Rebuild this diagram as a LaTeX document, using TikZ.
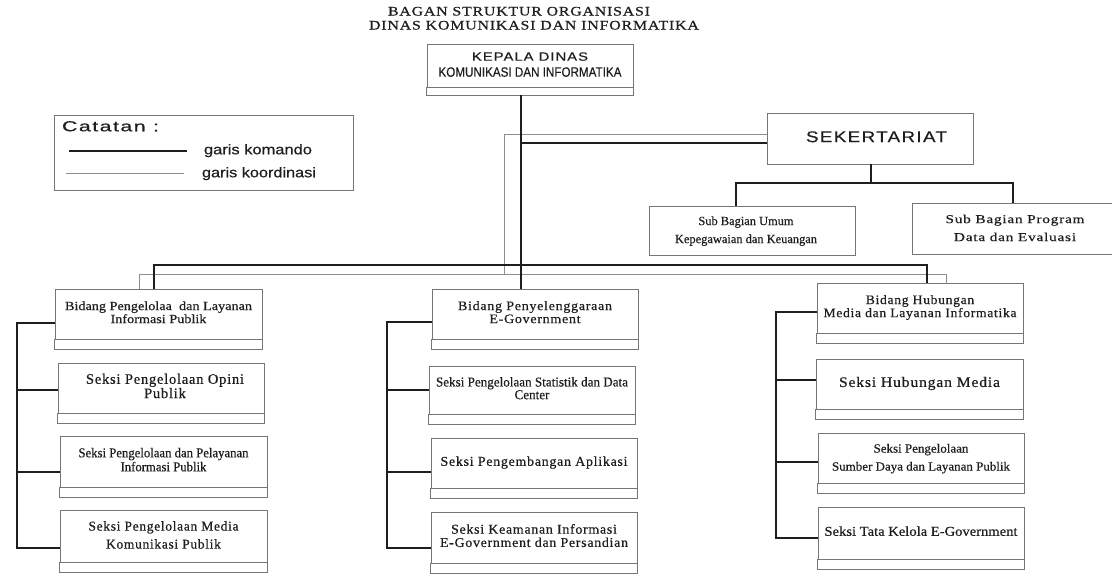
\documentclass[tikz,border=0pt]{standalone}
\usepackage{graphicx}
\usepackage{fontspec}
\setmainfont[FakeBold=0.5]{Liberation Serif}
\newfontfamily\sansf[FakeBold=0.4]{Liberation Sans}
\newfontfamily\sanssp[LetterSpace=7,FakeBold=0.4]{Liberation Sans}
\newfontfamily\serifsp[LetterSpace=5,FakeBold=0.5]{Liberation Serif}
\newcommand\fitw[2]{\resizebox{#1pt}{\height}{\begin{tabular}{@{}c@{}}#2\end{tabular}}}
\definecolor{boxgray}{HTML}{767676}
\definecolor{coordgray}{HTML}{8E8E8E}
\definecolor{ink}{HTML}{1E1E1E}
\tikzset{
  box/.style={draw=boxgray, line width=0.9pt, inner sep=0pt, text=ink},
  strip/.style={draw=boxgray, line width=0.9pt},
  cmd/.style={draw=ink, line width=1.9pt, line join=miter},
  coordl/.style={draw=coordgray, line width=0.8pt},
  txt/.style={inner sep=0pt, text=ink}
}
\begin{document}
\begin{tikzpicture}[x=1pt,y=-1pt]
\fill[white] (0,0) rectangle (1112,588);
\useasboundingbox (0,0) rectangle (1112,588);

% title
\node[txt] (t1) at (519,13) {\fitw{262}{\serifsp\fontsize{13}{13}\selectfont BAGAN STRUKTUR ORGANISASI}};
\node[txt] (t2) at (534,27) {\fitw{330}{\serifsp\fontsize{13}{13}\selectfont DINAS KOMUNIKASI DAN INFORMATIKA}};

% kepala
\node[box, minimum width=206pt, minimum height=43pt, align=center, font=\fontsize{12}{16}\selectfont] (kepala) at (530,65.5)
  {\fitw{116}{\sanssp\fontsize{12}{13}\selectfont KEPALA DINAS}\\\fitw{183}{\sansf\fontsize{13.5}{14}\selectfont KOMUNIKASI DAN INFORMATIKA}};
\draw[strip] (kepala.south west) rectangle ([yshift=-8pt]kepala.south east);

% legend
\node[box, minimum width=299pt, minimum height=75pt] (legend) at (203.5,152.5) {};
\node[txt] (cat) at (110.5,128) {\fitw{97}{\sanssp\fontsize{14.5}{14}\selectfont Catatan :}};
\node[txt] (gk) at (258,151) {\fitw{108}{\sansf\fontsize{14}{14}\selectfont garis komando}};
\node[txt] (gko) at (259,174) {\fitw{114}{\sansf\fontsize{14}{14}\selectfont garis koordinasi}};
\draw[cmd] (69,151) -- (187,151);
\draw[coordl] (66,173) -- (184,173);

% sekretariat
\node[box, minimum width=206pt, minimum height=51pt] (sek) at (870,138.5)
  {\hspace*{13pt}\fitw{141}{\sanssp\fontsize{15.5}{15}\selectfont SEKERTARIAT}};
\node[box, minimum width=206pt, minimum height=49pt, font=\fontsize{12.5}{18}\selectfont] (subU) at (752,230.5)
  {\fitw{142}{Sub Bagian Umum\\Kepegawaian dan Keuangan}\hspace*{12pt}};
\node[box, minimum width=206pt, minimum height=51pt, font=\fontsize{12}{18}\selectfont] (subP) at (1015,228.5)
  {\fitw{139}{\serifsp Sub Bagian Program\\\serifsp Data dan Evaluasi}};

% bidang row
\node[box, minimum width=207pt, minimum height=50pt, font=\fontsize{12.5}{13}\selectfont] (bidL) at (158.5,314)
  {\fitw{187}{Bidang Pengelolaa~ dan Layanan\\Informasi Publik}};
\node[box, minimum width=206pt, minimum height=50pt, font=\fontsize{13}{13}\selectfont] (bidM) at (535,314)
  {\fitw{154}{\serifsp Bidang Penyelenggaraan\\\serifsp E-Government}};
\node[box, minimum width=206pt, minimum height=50pt, font=\fontsize{13}{13}\selectfont] (bidR) at (920,308)
  {\fitw{193}{\serifsp Bidang Hubungan\\\serifsp Media dan Layanan Informatika}};

% left column
\node[box, minimum width=206pt, minimum height=50pt, font=\fontsize{14.5}{14}\selectfont] (sOpi) at (161,388)
  {\hspace*{8pt}\fitw{158}{\serifsp Seksi Pengelolaan Opini\\\serifsp Publik}};
\node[box, minimum width=207pt, minimum height=51pt, font=\fontsize{13.5}{14}\selectfont] (sPel) at (163.5,461.5)
  {\fitw{170}{Seksi Pengelolaan dan Pelayanan\\Informasi Publik}};
\node[box, minimum width=207pt, minimum height=52pt, font=\fontsize{13.5}{18}\selectfont] (sMed) at (163.5,536)
  {\fitw{150}{\serifsp Seksi Pengelolaan Media\\\serifsp Komunikasi Publik}};

% middle column
\node[box, minimum width=206pt, minimum height=48pt, font=\fontsize{13.5}{12.5}\selectfont] (sSta) at (532,390)
  {\fitw{192}{Seksi Pengelolaan Statistik dan Data\\Center}};
\node[box, minimum width=206pt, minimum height=50pt, font=\fontsize{13.5}{14}\selectfont] (sApl) at (534,463)
  {\fitw{187}{\serifsp Seksi Pengembangan Aplikasi}};
\node[box, minimum width=206pt, minimum height=51pt, font=\fontsize{13.5}{13}\selectfont] (sKea) at (534,537.5)
  {\fitw{188}{\serifsp Seksi Keamanan Informasi\\\serifsp E-Government dan Persandian}};

% right column
\node[box, minimum width=207pt, minimum height=50pt, font=\fontsize{14.5}{14}\selectfont] (sHub) at (919.5,384)
  {\fitw{161}{\serifsp Seksi Hubungan Media}};
\node[box, minimum width=206pt, minimum height=50pt, font=\fontsize{12.5}{18}\selectfont] (sSum) at (921,458)
  {\fitw{178}{Seksi Pengelolaan\\Sumber Daya dan Layanan Publik}};
\node[box, minimum width=206pt, minimum height=52pt, font=\fontsize{13.5}{14}\selectfont] (sTat) at (921,533)
  {\fitw{193}{Seksi Tata Kelola E-Government}};

\foreach \n in {bidL,bidM,bidR,sOpi,sPel,sMed,sSta,sApl,sKea,sHub,sSum,sTat}
  \draw[strip] (\n.south west) rectangle ([yshift=-10pt]\n.south east);

% coordination lines (thin)
\coordinate (ct) at (504,134);
\coordinate (cL) at (139,274);
\coordinate (cM) at (504,274);
\coordinate (cR) at (946,274);
\draw[coordl] (sek.west |- ct) -- (ct) -- (cM);
\draw[coordl] (cL |- bidL.north) -- (cL) -- (cR) -- (cR |- bidR.north);

% command lines (thick)
\coordinate (trunk) at (521,95);
\coordinate (ks) at (521,143);
\draw[cmd] (trunk) -- (trunk |- bidM.north);
\draw[cmd] (ks) -- (ks -| sek.west);
\coordinate (bL) at (154,265);
\coordinate (bR) at (927,265);
\draw[cmd] (bL |- bidL.north) -- (bL) -- (bR) -- (bR |- bidR.north);
\coordinate (sb) at (871,183);
\coordinate (sbL) at (736,183);
\coordinate (sbR) at (1013,183);
\draw[cmd] (sb |- sek.south) -- (sb);
\draw[cmd] (sbL |- subU.north) -- (sbL) -- (sbR) -- (sbR |- subP.north);

% brackets
\coordinate (lA) at (17,323); \coordinate (lB) at (17,390);
\coordinate (lC) at (17,472); \coordinate (lD) at (17,548);
\draw[cmd] (bidL.west |- lA) -- (lA) -- (lD) -- (sMed.west |- lD);
\draw[cmd] (lB) -- (sOpi.west |- lB);
\draw[cmd] (lC) -- (sPel.west |- lC);

\coordinate (mA) at (387,322); \coordinate (mB) at (387,390);
\coordinate (mC) at (387,472); \coordinate (mD) at (387,548);
\draw[cmd] (bidM.west |- mA) -- (mA) -- (mD) -- (sKea.west |- mD);
\draw[cmd] (mB) -- (sSta.west |- mB);
\draw[cmd] (mC) -- (sApl.west |- mC);

\coordinate (rA) at (776,312); \coordinate (rB) at (776,380);
\coordinate (rC) at (776,462); \coordinate (rD) at (776,538);
\draw[cmd] (bidR.west |- rA) -- (rA) -- (rD) -- (sTat.west |- rD);
\draw[cmd] (rB) -- (sHub.west |- rB);
\draw[cmd] (rC) -- (sSum.west |- rC);
\end{tikzpicture}
\end{document}
